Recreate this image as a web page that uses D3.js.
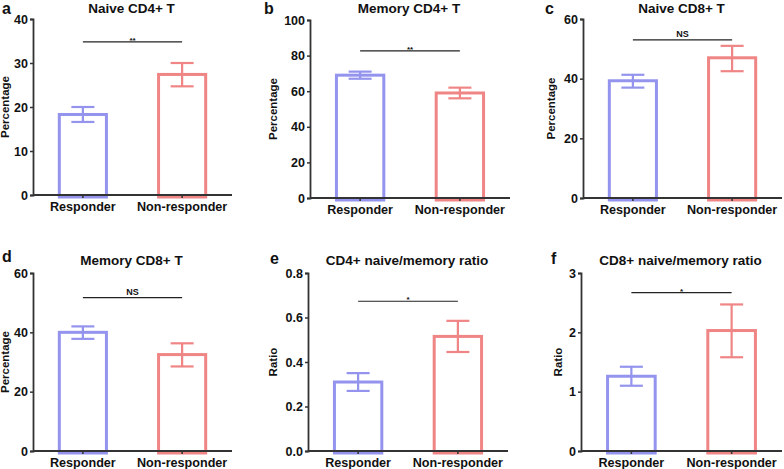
<!DOCTYPE html>
<html><head><meta charset="utf-8">
<script src="https://cdn.jsdelivr.net/npm/d3@7"></script>
<style>
body{margin:0;background:#fff;}
svg text{font-family:"Liberation Sans",Arial,sans-serif;font-weight:bold;fill:#111;}
</style></head>
<body><svg id="c" width="784" height="469"></svg>
<script>
// ---- data ----
const categories = ["Responder", "Non-responder"];
const panelLetters = ["a", "b", "c", "d", "e", "f"];
const titles = ["Naive CD4+ T", "Memory CD4+ T", "Naive CD8+ T", "Memory CD8+ T", "CD4+ naive/memory ratio", "CD8+ naive/memory ratio"];
const yLabels = ["Percentage", "Percentage", "Percentage", "Percentage", "Ratio", "Ratio"];
const yMax = [40, 100, 60, 60, 0.8, 3];
const yTicks = [[0,10,20,30,40],[0,20,40,60,80,100],[0,20,40,60],[0,20,40,60],[0,0.2,0.4,0.6,0.8],[0,1,2,3]];
const tickFormats = ["d","d","d","d",".1f","d"];
const responderMean = [18.3, 69, 39.3, 40, 0.31, 1.26];
const responderLow  = [16.6, 67, 37.0, 37.8, 0.27, 1.10];
const responderHigh = [20.0, 71, 41.3, 42.0, 0.35, 1.42];
const nonRespMean = [27.4, 59, 47.0, 32.5, 0.515, 2.03];
const nonRespLow  = [24.7, 56, 42.5, 28.5, 0.445, 1.58];
const nonRespHigh = [30.0, 62, 51.0, 36.3, 0.585, 2.47];
const sigLabels = ["**", "**", "NS", "NS", "*", "*"];
const sigValue = [34.8, 82.7, 53, 51.7, 0.673, 2.67];

// ---- layout ----
const layout = [
  {x0:33, x1:232, top:19, bottom:195, yl:-24, lx:2,   ly:14, ty:13},
  {x0:310,x1:510, top:20, bottom:198, yl:-33, lx:264, ly:14, ty:13},
  {x0:583,x1:782, top:19, bottom:198, yl:-28, lx:545, ly:14, ty:13},
  {x0:33, x1:232, top:273,bottom:451, yl:-24, lx:2,   ly:262,ty:265},
  {x0:308,x1:508, top:273,bottom:451, yl:-31, lx:270, ly:264,ty:265},
  {x0:581,x1:782, top:273,bottom:451, yl:-19, lx:551, ly:264,ty:265}
];
const colors = ["#9494ee", "#f08585"];
const svg = d3.select("#c");

panelLetters.forEach((letter, i) => {
  const L = layout[i];
  const g = svg.append("g");
  const x = d3.scaleBand().domain(categories).range([L.x0, L.x1]).paddingInner(0.495).paddingOuter(0.25);
  const y = d3.scaleLinear().domain([0, yMax[i]]).range([L.bottom, L.top]);
  const means = [responderMean[i], nonRespMean[i]];
  const lows = [responderLow[i], nonRespLow[i]];
  const highs = [responderHigh[i], nonRespHigh[i]];

  // bars
  categories.forEach((c, j) => {
    g.append("rect")
      .attr("x", x(c) + 1.5).attr("width", x.bandwidth() - 3)
      .attr("y", y(means[j])).attr("height", L.bottom - y(means[j]) + 2)
      .attr("fill", "none").attr("stroke", colors[j]).attr("stroke-width", 3);
    const cx = x(c) + x.bandwidth() / 2;
    const cap = 11.5;
    g.append("line").attr("x1", cx).attr("x2", cx).attr("y1", y(lows[j])).attr("y2", y(highs[j]))
      .attr("stroke", colors[j]).attr("stroke-width", 2.2);
    [lows[j], highs[j]].forEach(v => {
      g.append("line").attr("x1", cx - cap).attr("x2", cx + cap).attr("y1", y(v)).attr("y2", y(v))
        .attr("stroke", colors[j]).attr("stroke-width", 2.2);
    });
  });

  // y axis
  const ya = g.append("g").attr("transform", `translate(${L.x0},0)`)
    .call(d3.axisLeft(y).tickValues(yTicks[i]).tickFormat(d3.format(tickFormats[i])).tickSize(3).tickPadding(2));
  ya.select(".domain").attr("stroke", "#333").attr("stroke-width", 1.8);
  ya.selectAll(".tick line").attr("stroke", "#333").attr("stroke-width", 1.5);
  ya.selectAll(".tick text").attr("font-size", 12.5).attr("fill", "#111").attr("font-family", "Liberation Sans, Arial").attr("font-weight", "bold");

  // x axis
  const xa = g.append("g").attr("transform", `translate(0,${L.bottom})`)
    .call(d3.axisBottom(x).tickSize(3).tickPadding(4));
  xa.select(".domain").attr("stroke", "#333").attr("stroke-width", 1.8).attr("d", `M${L.x0},0H${L.x1}`);
  xa.selectAll(".tick line").attr("stroke", "#333").attr("stroke-width", 1.5);
  xa.selectAll(".tick text").attr("font-size", 12.6).attr("fill", "#111").attr("font-family", "Liberation Sans, Arial").attr("font-weight", "bold");

  // y label
  g.append("text")
    .attr("transform", `translate(${L.x0 + L.yl},${(L.top + L.bottom) / 2}) rotate(-90)`)
    .attr("text-anchor", "middle").attr("font-size", 11.5).text(yLabels[i]);

  // title & letter
  g.append("text").attr("x", (L.x0 + L.x1) / 2 - 1).attr("y", L.ty).attr("text-anchor", "middle")
    .attr("font-size", 13.5).text(titles[i]);
  g.append("text").attr("x", L.lx).attr("y", L.ly).attr("font-size", 16).text(letter);

  // significance
  const c0 = x(categories[0]) + x.bandwidth() / 2, c1 = x(categories[1]) + x.bandwidth() / 2;
  g.append("line").attr("x1", c0).attr("x2", c1).attr("y1", y(sigValue[i])).attr("y2", y(sigValue[i]))
    .attr("stroke", "#222").attr("stroke-width", 1.2);
  g.append("text").attr("x", (c0 + c1) / 2).attr("y", y(sigValue[i]) - (sigLabels[i] === "NS" ? 3 : -1))
    .attr("text-anchor", "middle").attr("font-size", sigLabels[i] === "NS" ? 9 : 8).text(sigLabels[i]);
});
</script></body></html>
